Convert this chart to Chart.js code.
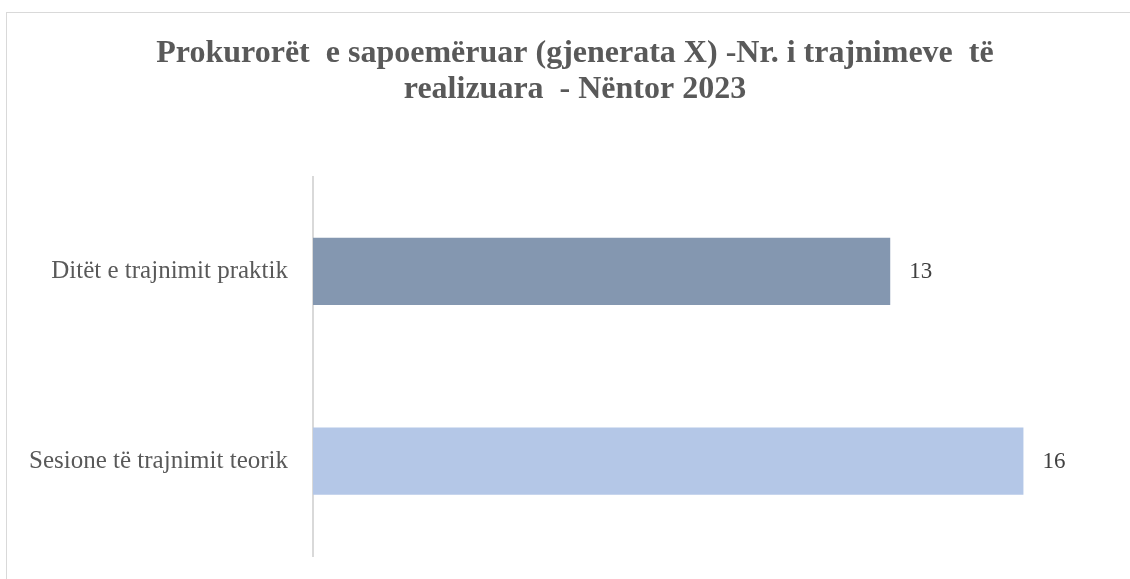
<!DOCTYPE html>
<html>
<head>
<meta charset="utf-8">
<script src="https://cdn.jsdelivr.net/npm/chart.js@4"></script>
<style>
  html, body { margin: 0; padding: 0; background: #fff; }
  #wrap { position: relative; width: 1130px; height: 579px; overflow: hidden; }
  #frame { position: absolute; left: 6px; top: 12px; width: 1200px; height: 700px; border: 1px solid #d9d9d9; }
  canvas { position: absolute; left: 0; top: 0; }
</style>
</head>
<body>
<div id="wrap">
  <div id="frame"></div>
  <canvas id="chart" width="1130" height="579"></canvas>
</div>
<script>
// te dhenat e grafikut
const titleLines = ['Prokurorët  e sapoemëruar (gjenerata X) -Nr. i trajnimeve  të', 'realizuara  - Nëntor 2023'];
const categories = ['Ditët e trajnimit praktik', 'Sesione të trajnimit teorik'];
const values = [13, 16];
const barColors = ['#8497B0', '#B4C7E7'];

const serif = '"Liberation Serif", "Times New Roman", serif';

// etiketat e vlerave ne fund te shiritave
const valueLabels = {
  id: 'valueLabels',
  afterDatasetsDraw(chart) {
    const ctx = chart.ctx;
    const meta = chart.getDatasetMeta(0);
    ctx.save();
    ctx.font = '23px ' + serif;
    ctx.fillStyle = '#404040';
    ctx.textAlign = 'left';
    ctx.textBaseline = 'middle';
    meta.data.forEach((bar, i) => {
      ctx.fillText(String(values[i]), bar.x + 19, bar.y + 1);
    });
    ctx.restore();
  }
};

const ctx = document.getElementById('chart').getContext('2d');
new Chart(ctx, {
  type: 'bar',
  data: {
    labels: categories,
    datasets: [{
      data: values,
      backgroundColor: barColors,
      borderWidth: 0,
      barPercentage: 0.355,
      categoryPercentage: 1
    }]
  },
  options: {
    indexAxis: 'y',
    responsive: false,
    animation: false,
    layout: { padding: { left: 20, right: 0, top: 0, bottom: 23 } },
    plugins: {
      legend: { display: false },
      tooltip: { enabled: false },
      title: {
        display: true,
        text: titleLines,
        color: '#595959',
        font: { family: serif, size: 32, weight: 'bold', lineHeight: 1.15 },
        padding: { top: 35, bottom: 68 }
      }
    },
    scales: {
      x: {
        display: false,
        min: 0,
        max: 18.4
      },
      y: {
        grid: { display: false, drawTicks: false },
        border: { display: true, color: '#d9d9d9', width: 2 },
        ticks: { color: '#595959', font: { family: serif, size: 25 }, padding: 25 },
        afterFit(scale) {
          scale.width = 293;
          scale.paddingTop = 0;
          scale.paddingBottom = 0;
        }
      }
    }
  },
  plugins: [valueLabels]
});
</script>
</body>
</html>
